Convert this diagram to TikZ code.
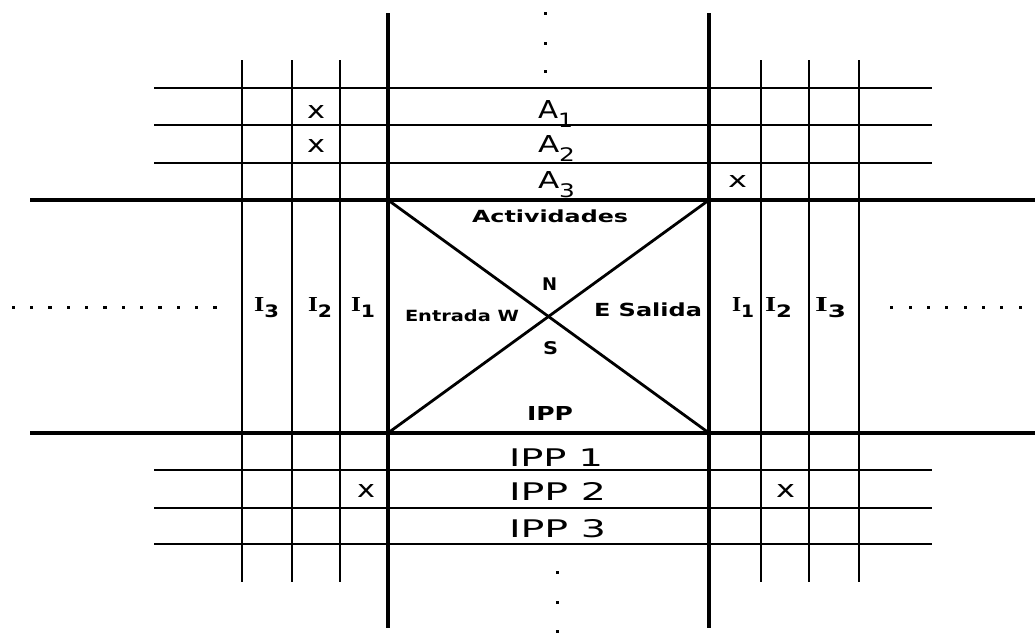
\documentclass[tikz,border=0pt]{standalone}
\usepackage{fontspec}
\usepackage{graphicx}
\setmainfont{DejaVu Sans}
\newfontfamily\serifI{Liberation Serif}
\newcommand\fitbox[3]{\resizebox{#1pt}{#2pt}{#3}}
\newcommand\Asub[1]{A\raisebox{-0.4em}{\footnotesize #1}}
\newcommand\Isub[1]{{\serifI\bfseries I}\raisebox{-0.3em}{\footnotesize\bfseries #1}}
\tikzset{
  thickline/.style={line width=3.4pt},
  thinline/.style={line width=1.6pt},
  diagline/.style={line width=2.8pt},
  lbl/.style={inner sep=0pt, outer sep=0pt, anchor=base west},
  dotmark/.style={fill=black}
}
\begin{document}
\begin{tikzpicture}[x=1pt,y=-1pt]
\useasboundingbox (0,0) rectangle (1035,633);
\fill[white] (0,0) rectangle (1035,633);
% central box corners
\coordinate (NW) at (388,200);
\coordinate (NE) at (709,200);
\coordinate (SW) at (388,433);
\coordinate (SE) at (709,433);
% thin horizontals
\foreach \y in {88,125,163,470,508,544}{
  \coordinate (hl\y) at (154,\y);
  \coordinate (hr\y) at (932,\y);
  \draw[thinline] (hl\y) -- (hr\y);
}
% thin verticals
\foreach \x in {242,292,340,761,809,859}{
  \coordinate (vt\x) at (\x,60);
  \coordinate (vb\x) at (\x,582);
  \draw[thinline] (vt\x) -- (vb\x);
}
% thick lines
\coordinate (TL) at (388,13);
\coordinate (BL) at (388,628);
\coordinate (TR) at (709,13);
\coordinate (BR) at (709,628);
\coordinate (LT) at (30,200);
\coordinate (RT) at (1035,200);
\coordinate (LB) at (30,433);
\coordinate (RB) at (1035,433);
\draw[thickline] (TL) -- (BL);
\draw[thickline] (TR) -- (BR);
\draw[thickline] (LT) -- (RT);
\draw[thickline] (LB) -- (RB);
% diagonals
\draw[diagline] (NW) -- (SE);
\draw[diagline] (NE) -- (SW);
% dots
\foreach \y in {13,43,71}{\fill[dotmark] (543.5,\y-1.5) rectangle ++(3.2,3.2);}
\foreach \y in {572,602,631}{\fill[dotmark] (555.5,\y-1.5) rectangle ++(3.2,3.2);}
\foreach \k in {0,...,11}{\fill[dotmark] (13.3+18.33*\k-1.5,305.5) rectangle ++(3.2,3.2);}
\foreach \k in {0,...,7}{\fill[dotmark] (891.7+18.33*\k-1.5,305.5) rectangle ++(3.2,3.2);}
% A labels
\node[lbl] (a1) at (538,118) {\fitbox{35}{18}{\Asub{1}}};
\node[lbl] (a2) at (538,152) {\fitbox{37}{17}{\Asub{2}}};
\node[lbl] (a3) at (538,188) {\fitbox{37}{17}{\Asub{3}}};
\node[lbl] (act) at (472,222.7) {\fitbox{156}{12.7}{\bfseries Actividades}};
\node[lbl] (n) at (542,290.7) {\fitbox{15}{12.7}{\bfseries N}};
\node[lbl] (s) at (543,354) {\fitbox{15}{13}{\bfseries S}};
\node[lbl] (entrada) at (405,321.7) {\fitbox{114}{11.7}{\bfseries Entrada W}};
\node[lbl] (salida) at (594,316.7) {\fitbox{108}{13.7}{\bfseries E Salida}};
\node[lbl] (ipp) at (527,420.7) {\fitbox{46}{14}{\bfseries IPP}};
\node[lbl] (ipp1) at (509,466.7) {\fitbox{94}{17.7}{IPP 1}};
\node[lbl] (ipp2) at (509,500) {\fitbox{97}{18}{IPP 2}};
\node[lbl] (ipp3) at (509,537) {\fitbox{97}{18}{IPP 3}};
% x marks
\node[lbl] (x1) at (307,118) {\fitbox{18}{13}{x}};
\node[lbl] (x2) at (307,152) {\fitbox{18}{13}{x}};
\node[lbl] (x3) at (728,187) {\fitbox{19}{12}{x}};
\node[lbl] (x4) at (357,497) {\fitbox{18}{13}{x}};
\node[lbl] (x5) at (776,497) {\fitbox{19}{13}{x}};
% I labels
\node[lbl] (li3) at (254,311) {\fitbox{25}{14}{\Isub{3}}};
\node[lbl] (li2) at (308,311) {\fitbox{24}{14}{\Isub{2}}};
\node[lbl] (li1) at (351,311) {\fitbox{24}{14}{\Isub{1}}};
\node[lbl] (ri1) at (732,311) {\fitbox{22}{14}{\Isub{1}}};
\node[lbl] (ri2) at (765,311) {\fitbox{27}{14}{\Isub{2}}};
\node[lbl] (ri3) at (815,311) {\fitbox{31}{14}{\Isub{3}}};
\end{tikzpicture}
\end{document}
